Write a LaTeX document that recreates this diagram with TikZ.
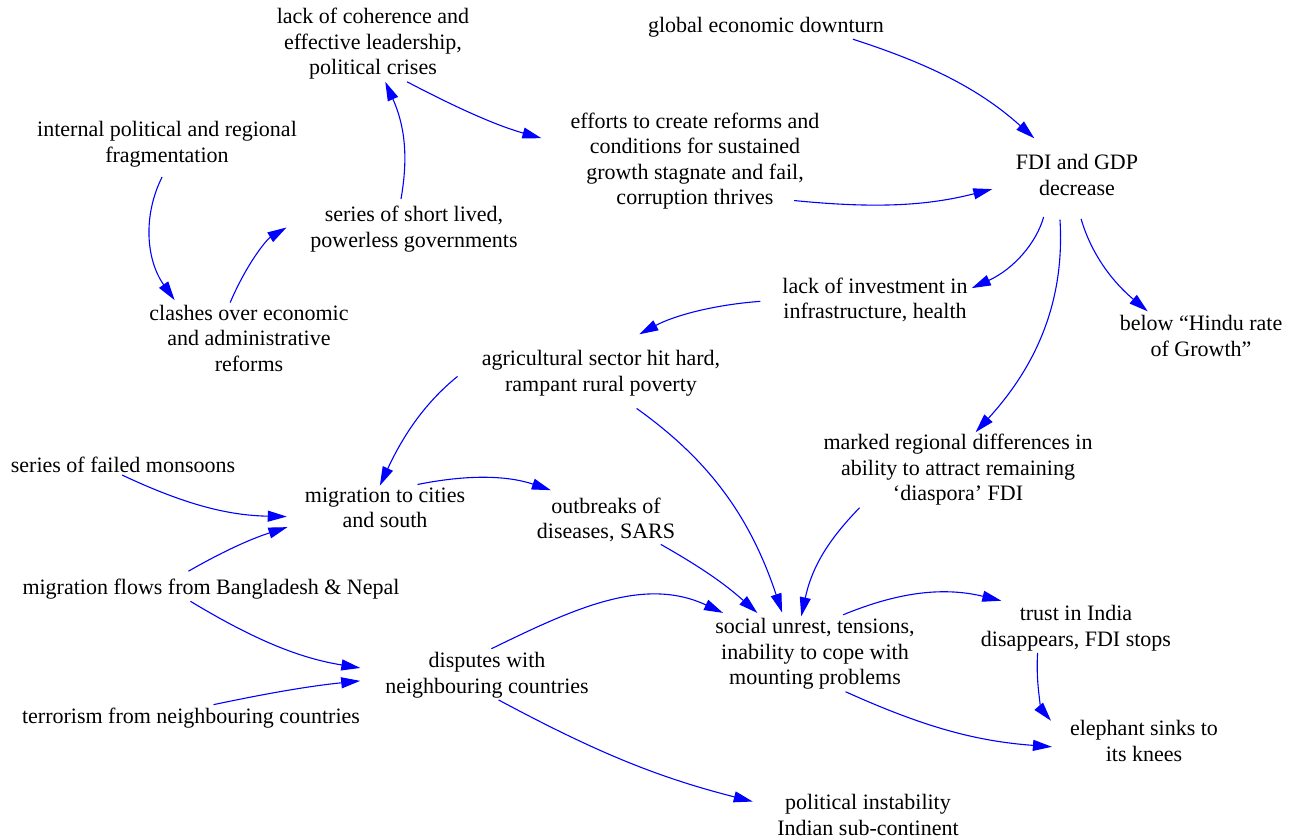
\documentclass[tikz,border=0pt]{standalone}
\usepackage{fontspec}
\setmainfont{Liberation Serif}
\usetikzlibrary{arrows.meta}
\tikzset{box/.style={inner xsep=4pt, inner ysep=2pt, align=center, font=\fontsize{22}{25.5}\selectfont},
         link/.style={blue, line width=1.1pt, -{Triangle[length=19pt,width=11pt]}}}

\begin{document}
\begin{tikzpicture}[x=1pt,y=1pt]
  \useasboundingbox (0,0) rectangle (1303,-840);
  % factors
  \node[box] (lack)     at ( 373, -44) {lack of coherence and\\effective leadership,\\political crises};
  \node[box] (glob)     at ( 766, -27) {global economic downturn};
  \node[box] (intern)   at ( 167,-144) {internal political and regional\\fragmentation};
  \node[box] (effort)   at ( 695,-161) {efforts to create reforms and\\conditions for sustained\\growth stagnate and fail,\\corruption thrives};
  \node[box] (fdi)      at (1077,-175) {FDI and GDP\\decrease};
  \node[box] (series)   at ( 414,-229) {series of short lived,\\powerless governments};
  \node[box] (clash)    at ( 249,-338) {clashes over economic\\and administrative\\reforms};
  \node[box] (invest)   at ( 875,-300) {lack of investment in\\infrastructure, health};
  \node[box] (hindu)    at (1201,-336) {below “Hindu rate\\of Growth”};
  \node[box] (agri)     at ( 601,-373) {agricultural sector hit hard,\\rampant rural poverty};
  \node[box] (region)   at ( 958,-470) {marked regional differences in\\ability to attract remaining\\‘diaspora’ FDI};
  \node[box] (monsoon)  at ( 123,-465) {series of failed monsoons};
  \node[box] (migcity)  at ( 385,-508) {migration to cities\\and south};
  \node[box] (disease)  at ( 606,-520) {outbreaks of\\diseases, SARS};
  \node[box] (migflow)  at ( 211,-589) {migration flows from Bangladesh \& Nepal};
  \node[box] (unrest)   at ( 815,-654) {social unrest, tensions,\\inability to cope with\\mounting problems};
  \node[box] (trust)    at (1076,-628) {trust in India\\disappears, FDI stops};
  \node[box] (dispute)  at ( 487,-675) {disputes with\\neighbouring countries};
  \node[box] (terror)   at ( 191,-718) {terrorism from neighbouring countries};
  \node[box] (elephant) at (1144,-741) {elephant sinks to\\its knees};
  \node[box] (instab)   at ( 868,-815) {political instability\\Indian sub-continent};
  % links
  \draw[link, shorten <=5pt] (series.119) to[bend right=17] (lack.-72);
  \draw[link, shorten >=26pt] (lack.-48) to[bend right=6] (effort.173);
  \draw[link, shorten >=21pt] (glob.-8) to[bend left=12] (fdi.140);
  \draw[link, shorten >=20pt] ([yshift=11pt]effort.-27) to[bend right=10] (fdi.188);
  \draw[link, shorten <=9pt, shorten >=3pt] (intern.-92) to[bend right=31] (clash.154);
  \draw[link, shorten >=23pt] (clash.118) to[bend left=18] (series.173);
  \draw[link, shorten <=20pt] (fdi.-141) to[bend left=25] (invest.7);
  \draw[link, shorten <=22pt] (fdi.-129) to[bend left=23] (region.65);
  \draw[link, shorten <=22pt, shorten >=3pt] (fdi.-95) to[bend right=17] (hindu.156);
  \draw[link, shorten <=18pt, shorten >=29pt] (invest.180) to[bend right=12] (agri.63);
  \draw[link, shorten <=26pt] (agri.174) to[bend right=13] (migcity.103);
  \draw[link, shorten <=18pt, shorten >=4pt] (agri.-50) to[bend left=18] (unrest.130);
  \draw[link, shorten >=14pt] (monsoon.-95) to[bend right=12] (migcity.186);
  \draw[link, shorten <=11pt, shorten >=14pt] (migflow.159) to[bend left=6] (migcity.190);
  \draw[link, shorten <=6pt, shorten >=17pt] (migcity.40) to[bend left=15] (disease.148);
  \draw[link, shorten >=5pt] (disease.-24) to[bend left=6] (unrest.145);
  \draw[link] (region.201) to[bend right=16] (unrest.110);
  \draw[link, shorten >=21pt] (migflow.211) to[bend right=11] (dispute.178);
  \draw[link, shorten <=5pt, shorten >=21pt] (terror.35) to[bend left=3] (dispute.182);
  \draw[link, shorten <=3pt, shorten >=8pt] (dispute.86) to[out=26,in=155] (unrest.156);
  \draw[link, shorten >=21pt] (dispute.-65) to[bend right=7] (instab.175);
  \draw[link, shorten <=4pt, shorten >=10pt] (unrest.57) to[bend left=18] (trust.159);
  \draw[link, shorten >=14pt] (unrest.-51) to[bend right=10] (elephant.185);
  \draw[link, shorten >=23pt] (trust.213) to[bend right=22] (elephant.178);
\end{tikzpicture}
\end{document}
